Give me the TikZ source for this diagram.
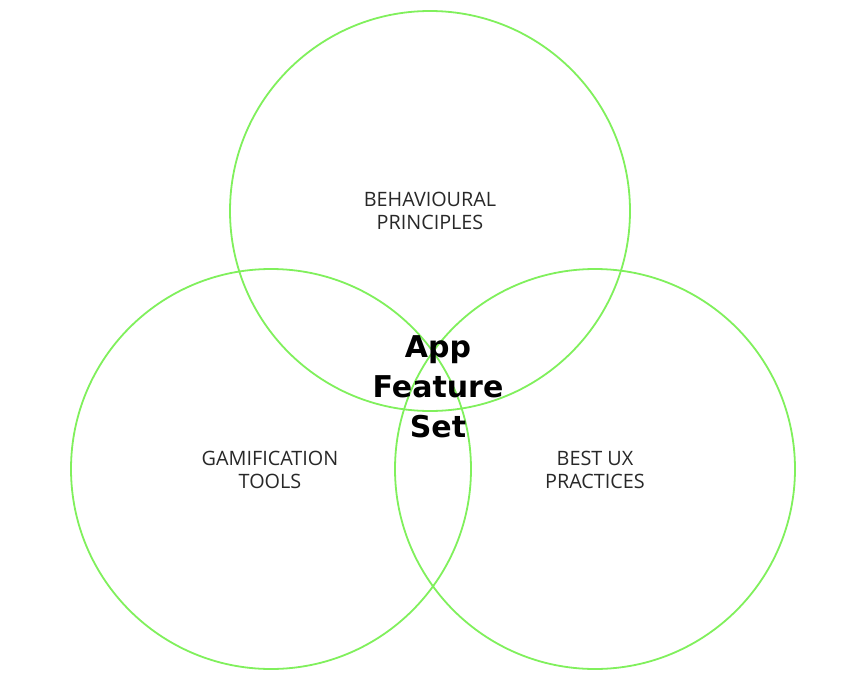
\documentclass[tikz,border=0pt]{standalone}
\usepackage{fontspec}
\setmainfont{DejaVu Sans}
\newfontfamily\labelfont{Open Sans}
\definecolor{ring}{RGB}{128,240,92}
\definecolor{lbltext}{RGB}{40,40,40}
\begin{document}
\begin{tikzpicture}[x=1pt,y=-1pt,
  ring/.style={draw=ring,line width=1.8pt},
  lbl/.style={align=center,font=\labelfont\fontsize{19.8}{23.5}\selectfont,text=lbltext,inner sep=0pt},
  ctr/.style={align=center,font=\bfseries\fontsize{30}{40}\selectfont,inner sep=0pt}]
\useasboundingbox[fill=white] (0,0) rectangle (862,688);
\node[ring,circle,minimum size=400pt,inner sep=0pt] (top) at (430,211) {};
\node[ring,circle,minimum size=400pt,inner sep=0pt] (left) at (271,469) {};
\node[ring,circle,minimum size=400pt,inner sep=0pt] (right) at (595,469) {};
\node[lbl] (tl) at (430,211) {BEHAVIOURAL\\PRINCIPLES};
\node[lbl] (ll) at (270,470) {GAMIFICATION\\TOOLS};
\node[lbl] (rl) at (595,470) {BEST UX\\PRACTICES};
\node[ctr] (c) at (438,387) {App\\Feature\\Set};
\end{tikzpicture}
\end{document}
